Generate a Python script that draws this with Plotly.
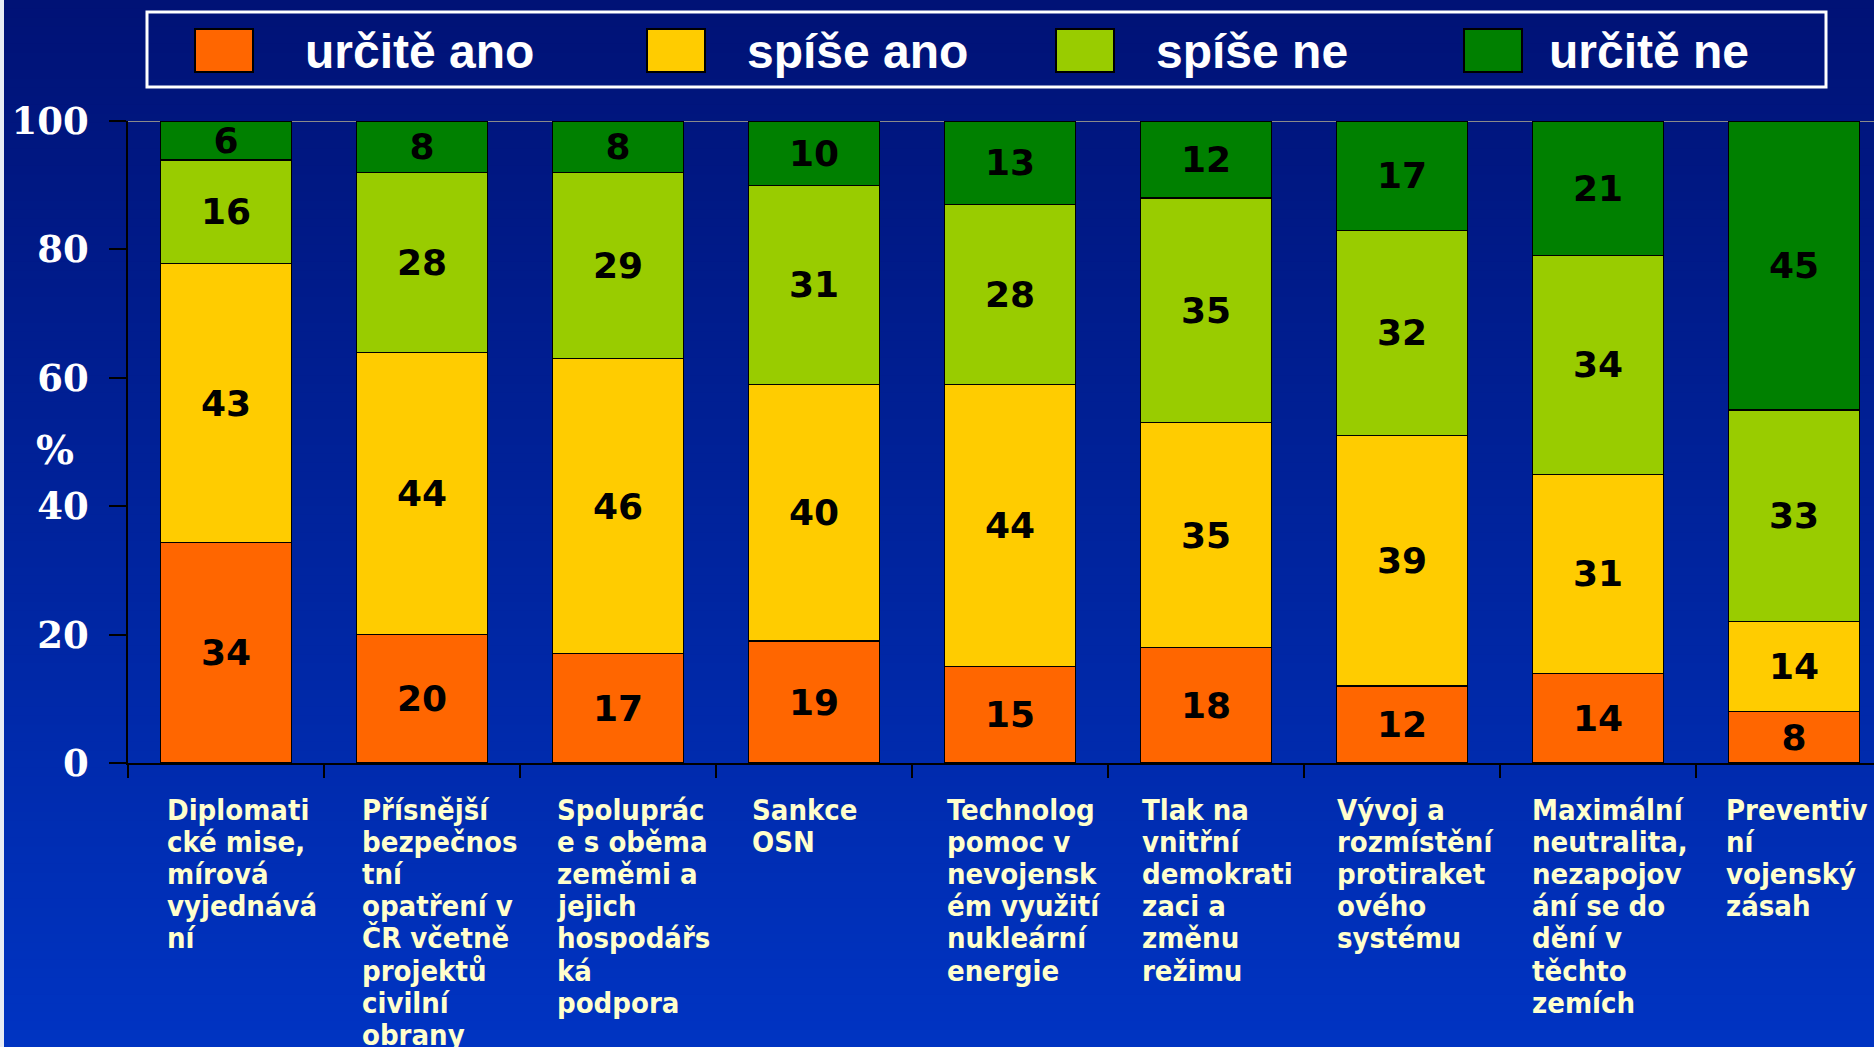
import plotly.graph_objects as go

# ---------------- data ----------------
categories = [
    "Diplomatické mise, mírová vyjednávání",
    "Přísnější bezpečnostní opatření v ČR včetně projektů civilní obrany",
    "Spolupráce s oběma zeměmi a jejich hospodářská podpora",
    "Sankce OSN",
    "Technolog pomoc v nevojenském využití nukleární energie",
    "Tlak na vnitřní demokratizaci a změnu režimu",
    "Vývoj a rozmístění protiraketového systému",
    "Maximální neutralita, nezapojování se do dění v těchto zemích",
    "Preventivní vojenský zásah",
]
category_lines = [
    ["Diplomati", "cké mise,", "mírová", "vyjednává", "ní"],
    ["Přísnější", "bezpečnos", "tní", "opatření v", "ČR včetně", "projektů", "civilní", "obrany"],
    ["Spoluprác", "e s oběma", "zeměmi a", "jejich", "hospodářs", "ká", "podpora"],
    ["Sankce", "OSN"],
    ["Technolog", "pomoc v", "nevojensk", "ém využití", "nukleární", "energie"],
    ["Tlak na", "vnitřní", "demokrati", "zaci a", "změnu", "režimu"],
    ["Vývoj a", "rozmístění", "protiraket", "ového", "systému"],
    ["Maximální", "neutralita,", "nezapojov", "ání se do", "dění v", "těchto", "zemích"],
    ["Preventiv", "ní", "vojenský", "zásah"],
]
series_names = ["určitě ano", "spíše ano", "spíše ne", "určitě ne"]
urcite_ano = [34, 20, 17, 19, 15, 18, 12, 14, 8]
spise_ano = [43, 44, 46, 40, 44, 35, 39, 31, 14]
spise_ne = [16, 28, 29, 31, 28, 35, 32, 34, 33]
urcite_ne = [6, 8, 8, 10, 13, 12, 17, 21, 45]
series_values = [urcite_ano, spise_ano, spise_ne, urcite_ne]
series_colors = ["#FF6600", "#FFCC00", "#99CC00", "#008000"]
y_ticks = [0, 20, 40, 60, 80, 100]

# ---------------- geometry helpers (pixels -> paper) ----------------
W, H = 1874, 1047
ML, MR, MT, MB = 128, 0, 121, 284
PW, PH = W - ML - MR, H - MT - MB


def px(x):
    return (x - ML) / PW


def py(y):
    return (H - MB - y) / PH


fig = go.Figure()

for name, vals, col in zip(series_names, series_values, series_colors):
    fig.add_trace(go.Bar(
        x=categories, y=vals, name=name,
        marker=dict(color=col, line=dict(color="#000000", width=1.2)),
        text=[str(v) for v in vals], textposition="inside",
        insidetextanchor="middle", constraintext="none",
        textfont=dict(family="DejaVu Sans", size=36, color="#000000", weight="bold"),
        textangle=0,
        showlegend=False,
    ))

shapes = []
# background gradient
n = 120
top = (0, 18, 118)
bot = (0, 52, 194)
for i in range(n):
    t = i / (n - 1)
    c = tuple(round(top[k] + (bot[k] - top[k]) * t) for k in range(3))
    y0 = H * i / n
    y1 = H * (i + 1) / n + 1
    shapes.append(dict(type="rect", xref="paper", yref="paper",
                       x0=px(0), x1=px(W), y0=py(y1), y1=py(y0),
                       fillcolor="rgb(%d,%d,%d)" % c, line=dict(width=0),
                       layer="below"))
# thin light strip on the left edge
shapes.append(dict(type="rect", xref="paper", yref="paper",
                   x0=px(0), x1=px(4), y0=py(H), y1=py(0),
                   fillcolor="#E8ECF4", line=dict(width=0), layer="below"))
# top line at 100
shapes.append(dict(type="line", xref="paper", yref="y", x0=0, x1=1, y0=100, y1=100,
                   line=dict(color="#8A8A8A", width=2), layer="below"))
# legend box
shapes.append(dict(type="rect", xref="paper", yref="paper",
                   x0=px(147), x1=px(1826), y0=py(87), y1=py(12),
                   line=dict(color="#FFFFFF", width=3), fillcolor="rgba(0,0,0,0)"))

annotations = []
marker_x = [195, 647, 1056, 1464]
text_x = [303, 745, 1154, 1547]
for name, col, mx, tx in zip(series_names, series_colors, marker_x, text_x):
    shapes.append(dict(type="rect", xref="paper", yref="paper",
                       x0=px(mx), x1=px(mx + 58), y0=py(72), y1=py(29),
                       fillcolor=col, line=dict(color="#000000", width=2)))
    annotations.append(dict(xref="paper", yref="paper", x=px(tx), y=py(51),
                            xanchor="left", yanchor="middle", showarrow=False,
                            text=name,
                            font=dict(family="Liberation Sans", size=48,
                                      color="#FFFFFF", weight="bold")))

# category labels, left aligned, one annotation per line
line_h = 32.1
first_y = 810
label_step = 0.9944
for i, lines in enumerate(category_lines):
    for j, ln in enumerate(lines):
        annotations.append(dict(xref="x", yref="paper", x=i * label_step - 0.31,
                                y=py(first_y + j * line_h),
                                xanchor="left", yanchor="middle", showarrow=False,
                                text=ln,
                                font=dict(family="DejaVu Sans Condensed", size=29,
                                          color="#FFFFCC", weight="bold")))

# % label
annotations.append(dict(xref="paper", yref="paper", x=px(55), y=py(449),
                        xanchor="center", yanchor="middle", showarrow=False,
                        text="%",
                        font=dict(family="DejaVu Serif", size=40, color="#FFFFFF",
                                  weight="bold")))

fig.update_layout(
    width=W, height=H,
    margin=dict(l=ML, r=MR, t=MT, b=MB, pad=0),
    barmode="stack", barnorm="percent", bargap=0.33,
    paper_bgcolor="#00237F", plot_bgcolor="rgba(0,0,0,0)",
    shapes=shapes, annotations=annotations,
    xaxis=dict(type="category", range=[-0.5, 8.408], showgrid=False,
               showticklabels=False, ticks="outside", tickson="boundaries",
               ticklen=13, tickwidth=1.5, tickcolor="#000000",
               showline=True, linecolor="#000000", linewidth=1.5, zeroline=False),
    yaxis=dict(range=[0, 100], tickvals=y_ticks, ticktext=[str(v) for v in y_ticks],
               showgrid=False, zeroline=False, ticks="outside", ticklen=17,
               tickwidth=1.5, tickcolor="#000000", showline=True,
               linecolor="#000000", linewidth=1.5, ticklabelstandoff=13,
               tickfont=dict(family="DejaVu Serif", size=37, color="#FFFFFF",
                             weight="bold")),
)

fig.write_html("out.html",
               config={"displayModeBar": False},
               post_script="document.body.style.margin='0px';"
                           "document.body.style.overflow='hidden';")
